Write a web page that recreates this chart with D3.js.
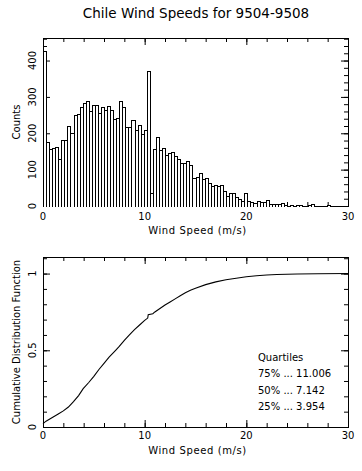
<!DOCTYPE html>
<meta charset="utf-8">
<style>

body {
  margin: 0;
  background: #fff;
}

text {
  font-family: "DejaVu Sans", sans-serif;
  font-size: 10px;
  fill: #000;
}

.title {
  font-size: 13.5px;
}

.xtitle {
  letter-spacing: 0.6px;
}

.axis path {
  display: none;
}

.axis line {
  stroke: #000;
}

.frame {
  fill: none;
  stroke: #000;
  shape-rendering: crispEdges;
}

.bar {
  fill: #fff;
  stroke: #000;
  shape-rendering: crispEdges;
}

.cdf {
  fill: none;
  stroke: #000;
  stroke-width: 1.1;
}

</style>
<svg width="362" height="471"></svg>
<script src="https://d3js.org/d3.v7.min.js"></script>
<script>

// histogram: counts per 0.3 m/s bin, starting at 0
var binWidth = 0.3;
var counts = [
  425, 176, 157, 160, 161, 129, 181, 181, 219, 202,
  249, 252, 271, 283, 288, 260, 279, 279, 257, 272,
  263, 274, 263, 239, 241, 288, 271, 216, 216, 236,
  209, 222, 197, 209, 371, 35, 157, 189, 155, 160,
  140, 147, 148, 137, 130, 117, 117, 125, 114, 78,
  80, 92, 75, 77, 64, 56, 58, 56, 58, 42,
  27, 35, 35, 26, 18, 15, 35, 15, 12, 9,
  15, 12, 10, 16, 5, 5, 5, 6, 9, 4,
  1, 3, 1, 3, 3, 1, 0, 2, 5, 1,
  0, 0, 0, 3, 0, 0, 0, 0, 0, 1
];

// cumulative distribution
var cdfSpeed = [0, 0.3, 1, 1.5, 2, 2.5, 3, 3.5, 3.954, 4.5, 5, 5.5, 6, 6.5,
  7.142, 7.5, 8, 8.5, 9, 9.5, 10, 10.3, 10.35, 10.8, 11.006, 11.5, 12, 12.5,
  13, 13.5, 14, 14.5, 15, 16, 17, 18, 19, 20, 21, 22, 23, 25, 27, 30];
var cdfValue = [0.022, 0.038, 0.065, 0.085, 0.105, 0.13, 0.165, 0.205, 0.25, 0.29,
  0.33, 0.375, 0.415, 0.455, 0.5, 0.525, 0.565, 0.6, 0.635, 0.665, 0.695, 0.71,
  0.732, 0.738, 0.75, 0.772, 0.795, 0.815, 0.835, 0.855, 0.875, 0.892, 0.905,
  0.928, 0.946, 0.96, 0.97, 0.979, 0.986, 0.991, 0.994, 0.997, 0.999, 1.0];

var quartileLines = ["Quartiles", "75% ... 11.006", "50% ... 7.142", "25% ... 3.954"];

var speedTicks = [0, 10, 20, 30];
var speedMinor = d3.range(0, 31, 2);
var countTicks = [0, 100, 200, 300, 400];
var countMinor = d3.range(0, 461, 20);
var cdfTicks = [0, 0.5, 1];
var cdfMinor = d3.range(0, 1.101, 0.1);

var svg = d3.select("svg");

var x = d3.scaleLinear().domain([0, 30]).range([43, 348]);
var yCount = d3.scaleLinear().domain([0, 462]).range([206, 38]);
var yCdf = d3.scaleLinear().domain([0, 1.108]).range([427, 257]);

svg.append("text")
    .attr("class", "title")
    .attr("x", 196)
    .attr("y", 18)
    .attr("text-anchor", "middle")
    .text("Chile Wind Speeds for 9504-9508");

function panel(y, major, minor, fmt, yTitle, labelY, titleY) {
  var bottom = y.range()[0], top = y.range()[1];
  var g = svg.append("g");

  // inward ticks on all four sides
  [[minor, 4], [major, 7]].forEach(function(t) {
    g.append("g").attr("class", "axis")
        .attr("transform", "translate(" + x.range()[0] + ",0)")
        .call(d3.axisLeft(y).tickValues(t[0]).tickSize(-t[1]).tickFormat(""));
    g.append("g").attr("class", "axis")
        .attr("transform", "translate(" + x.range()[1] + ",0)")
        .call(d3.axisRight(y).tickValues(t[0]).tickSize(-t[1]).tickFormat(""));
  });
  [[speedMinor, 4], [speedTicks, 7]].forEach(function(t) {
    g.append("g").attr("class", "axis")
        .attr("transform", "translate(0," + bottom + ")")
        .call(d3.axisBottom(x).tickValues(t[0]).tickSize(-t[1]).tickFormat(""));
    g.append("g").attr("class", "axis")
        .attr("transform", "translate(0," + top + ")")
        .call(d3.axisTop(x).tickValues(t[0]).tickSize(-t[1]).tickFormat(""));
  });

  g.append("rect")
      .attr("class", "frame")
      .attr("x", x.range()[0] + 0.5)
      .attr("y", top + 0.5)
      .attr("width", x.range()[1] - x.range()[0])
      .attr("height", bottom - top);

  g.selectAll(".xlab")
    .data(speedTicks)
    .join("text")
      .attr("x", d => x(d))
      .attr("y", labelY)
      .attr("text-anchor", "middle")
      .text(d => d);

  g.selectAll(".ylab")
    .data(major)
    .join("text")
      .attr("transform", d => "translate(36," + y(d) + ") rotate(-90)")
      .attr("text-anchor", "middle")
      .text(fmt);

  g.append("text")
      .attr("class", "xtitle")
      .attr("x", (x.range()[0] + x.range()[1]) / 2 + 2)
      .attr("y", titleY)
      .attr("text-anchor", "middle")
      .text("Wind Speed (m/s)");

  g.append("text")
      .attr("transform", "translate(20," + (top + bottom) / 2 + ") rotate(-90)")
      .attr("text-anchor", "middle")
      .text(yTitle);

  return g;
}

var histPanel = panel(yCount, countTicks, countMinor, d => d, "Counts", 220, 234);

// histogram bars as open outlines
var bins = counts.map((c, i) => ({x0: i * binWidth, x1: (i + 1) * binWidth, n: c}))
    .filter(d => d.n > 0);

histPanel.selectAll(".bar")
  .data(bins)
  .join("path")
    .attr("class", "bar")
    .attr("d", function(d) {
      var a = Math.round(x(d.x0)) + 0.5,
          b = Math.round(x(d.x1)) + 0.5,
          h = Math.round(yCount(d.n)) + 0.5,
          base = yCount(0) + 0.5;
      return "M" + a + "," + base + "V" + h + "H" + b + "V" + base;
    });

var cdfPanel = panel(yCdf, cdfTicks, cdfMinor, d => d, "Cumulative Distribution Function", 439, 454);

cdfPanel.append("path")
    .datum(d3.zip(cdfSpeed, cdfValue))
    .attr("class", "cdf")
    .attr("d", d3.line().x(d => x(d[0])).y(d => yCdf(d[1])));

cdfPanel.selectAll(".q")
  .data(quartileLines)
  .join("text")
    .attr("x", 258)
    .attr("y", (d, i) => 361 + i * 16.3)
    .text(d => d);

</script>
